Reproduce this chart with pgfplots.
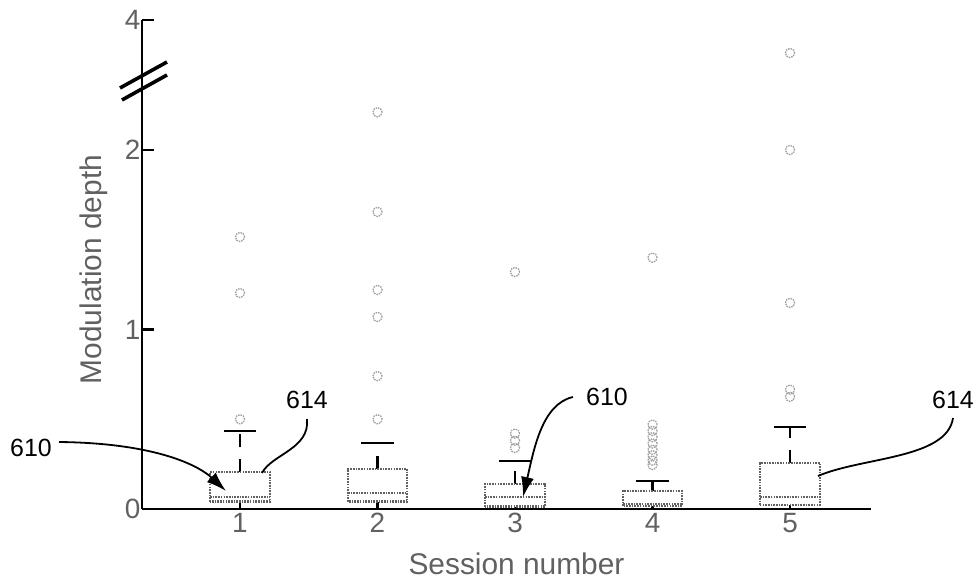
\documentclass[border=0pt]{standalone}
\usepackage{pgfplots}
\pgfplotsset{compat=1.18}
\usepgfplotslibrary{statistics}
\usetikzlibrary{arrows.meta}
\usepackage{fontspec}
\setmainfont{Liberation Sans}
\definecolor{txtgray}{gray}{0.38}
\definecolor{boxgray}{gray}{0.38}
\definecolor{outgray}{gray}{0.62}
\begin{document}
\begin{tikzpicture}
\useasboundingbox (-142bp,-72bp) rectangle (836bp,509bp);
\begin{axis}[
  scale only axis, width=729bp, height=489bp,
  at={(0,0)}, anchor=south west,
  xmin=0.2873, xmax=5.589, ymin=0, ymax=2.724,
  axis x line*=bottom, axis y line*=left,
  axis line style={line width=2.8bp, black},
  xtick={1,2,3,4,5}, xticklabels={1,2,3,4,5},
  ytick={0,1,2,2.724}, yticklabels={0,1,2,4},
  xtick style={draw=none},
  ytick style={line width=2.4bp, black},
  tick align=inside, major tick length=12bp,
  /pgf/number format/assume math mode=true,
  ticklabel style={font=\fontsize{28}{32}\selectfont, text=txtgray},
  yticklabel style={xshift=2bp},
  xticklabel style={yshift=-1bp},
  xlabel={Session number}, ylabel={Modulation depth},
  label style={font=\fontsize{30}{36}\selectfont, text=txtgray},
  xlabel style={at={(axis description cs:0.5,0)}, anchor=north, inner sep=0pt, yshift=-44bp, xshift=10bp},
  ylabel style={at={(axis description cs:0,0.5)}, anchor=south, inner sep=0pt, yshift=34bp, xshift=-5bp},
  clip=false,
  boxplot/draw direction=y,
  boxplot/every box/.style={draw=boxgray, line width=2.8bp, dash pattern=on 1.6bp off 1.1bp},
  boxplot/every median/.style={draw=boxgray, line width=2.2bp, dash pattern=on 1.6bp off 1.1bp},
  boxplot/draw/upper whisker/.code={%
    \draw[black, line width=2.5bp, dash pattern=on 13bp off 12bp]
      (boxplot box cs:\pgfplotsboxplotvalue{upper quartile},0.5) --
      (boxplot box cs:\pgfplotsboxplotvalue{upper whisker},0.5);
    \draw[black, line width=2.5bp]
      (boxplot whisker cs:\pgfplotsboxplotvalue{upper whisker},0) --
      (boxplot whisker cs:\pgfplotsboxplotvalue{upper whisker},1);
  },
  boxplot/draw/lower whisker/.code={%
    \draw[black, line width=2.5bp]
      (boxplot box cs:\pgfplotsboxplotvalue{lower quartile},0.5) --
      (boxplot box cs:\pgfplotsboxplotvalue{lower whisker},0.5);
  },
  outl/.style={black, mark=o, mark size=4.6bp, mark options={draw=outgray, line width=1.3bp, dash pattern=on 1.5bp off 1bp}},
]
\addplot[outl, boxplot prepared={draw position=1, median=0.067, lower quartile=0.041, upper quartile=0.206, lower whisker=0, upper whisker=0.435, box extend=0.436, whisker extend=0.233}]
  table[row sep=\\, y index=0, header=false] {1.515\\1.203\\0.50\\};
\addplot[outl, boxplot prepared={draw position=2, median=0.089, lower quartile=0.041, upper quartile=0.223, lower whisker=0, upper whisker=0.367, box extend=0.43, whisker extend=0.233}]
  table[row sep=\\, y index=0, header=false] {2.21\\1.655\\1.22\\1.07\\0.74\\0.50\\};
\addplot[outl, boxplot prepared={draw position=3, median=0.067, lower quartile=0.013, upper quartile=0.139, lower whisker=0, upper whisker=0.268, box extend=0.436, whisker extend=0.233}]
  table[row sep=\\, y index=0, header=false] {1.32\\0.42\\0.38\\0.34\\};
\addplot[outl, boxplot prepared={draw position=4, median=0.03, lower quartile=0.017, upper quartile=0.10, lower whisker=0, upper whisker=0.156, box extend=0.43, whisker extend=0.233}]
  table[row sep=\\, y index=0, header=false] {1.40\\0.47\\0.435\\0.40\\0.365\\0.33\\0.30\\0.27\\0.245\\};
\addplot[outl, boxplot prepared={draw position=5, median=0.067, lower quartile=0.022, upper quartile=0.256, lower whisker=0, upper whisker=0.457, box extend=0.436, whisker extend=0.233}]
  table[row sep=\\, y index=0, header=false] {2.54\\2.0\\1.148\\0.665\\0.625\\};
\end{axis}
% axis break marks
\draw[line width=3.6bp, black] (-22bp,421bp) -- (25bp,447bp);
\draw[line width=3.6bp, black] (-20bp,409bp) -- (25bp,434bp);
% annotations
\node[font=\fontsize{25}{30}\selectfont] at (-111bp,61bp) {610};
\draw[line width=1.8bp, -{Latex[length=20bp,width=13bp]}] (-83bp,67bp) .. controls (10bp,66bp) and (55bp,45bp) .. (84bp,18bp);
\node[font=\fontsize{25}{30}\selectfont] at (165bp,109bp) {614};
\draw[line width=1.8bp] (165bp,90bp) .. controls (168bp,60bp) and (130bp,55bp) .. (120bp,36bp);
\node[font=\fontsize{25}{30}\selectfont] at (465bp,112bp) {610};
\draw[line width=1.8bp, -{Latex[length=20bp,width=13bp]}] (431bp,112bp) .. controls (400bp,105bp) and (392bp,60bp) .. (381bp,12bp);
\node[font=\fontsize{25}{30}\selectfont] at (811bp,109bp) {614};
\draw[line width=1.8bp] (811bp,91bp) .. controls (805bp,50bp) and (720bp,52bp) .. (676bp,33bp);
\end{tikzpicture}
\end{document}
